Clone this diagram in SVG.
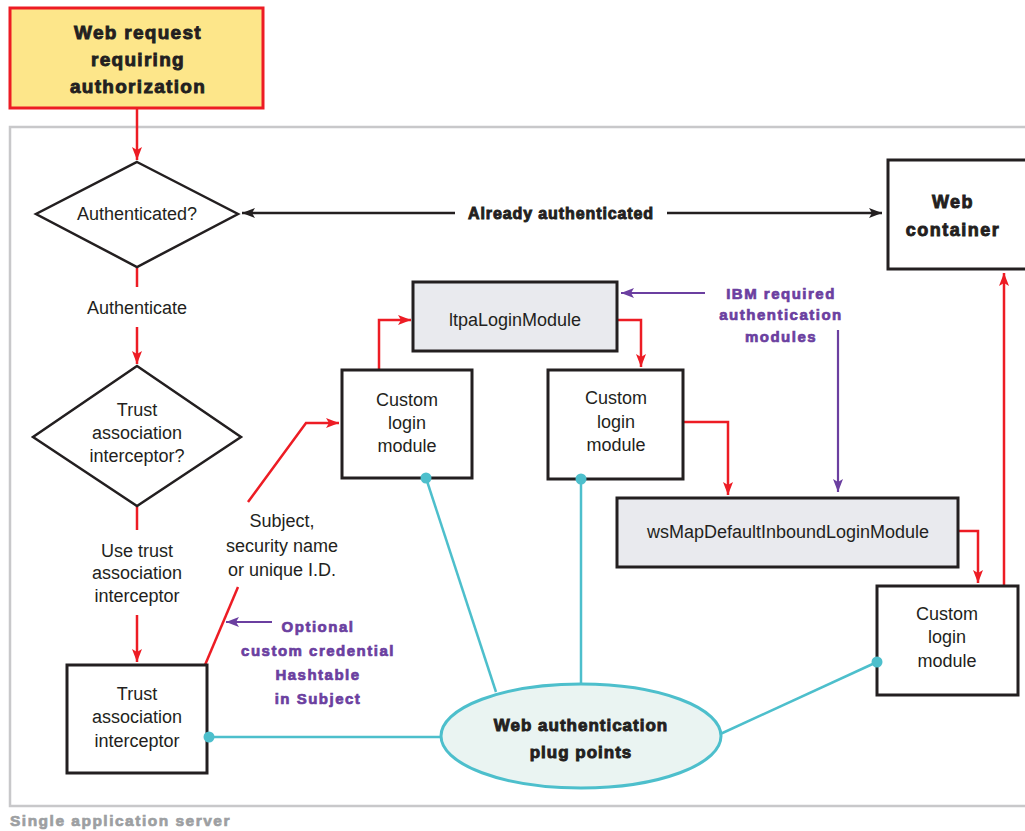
<svg xmlns="http://www.w3.org/2000/svg" width="1025" height="831" viewBox="0 0 1025 831">
<style>
.t{font-family:"Liberation Sans",Arial,sans-serif;font-size:18px;fill:#231f20;text-anchor:middle}
.b{font-family:"Liberation Sans",Arial,sans-serif;font-weight:bold;fill:#231f20;stroke:#231f20;stroke-width:0.9;text-anchor:middle}
.p{font-family:"Liberation Sans",Arial,sans-serif;font-weight:bold;font-size:15px;letter-spacing:1.5px;fill:#6b3fa0;stroke:#6b3fa0;stroke-width:0.7;text-anchor:middle}
.box{fill:#fff;stroke:#231f20;stroke-width:3}
.gbox{fill:#e9eaee;stroke:#231f20;stroke-width:3}
.red{fill:none;stroke:#ed1c24;stroke-width:2.5}
.blk{fill:none;stroke:#231f20;stroke-width:2.5}
.pur{fill:none;stroke:#6b3fa0;stroke-width:2.2}
.cy{fill:none;stroke:#4dbfcc;stroke-width:2.5}
.dot{fill:#4dbfcc}
</style>
<defs>
<marker id="ar" markerUnits="userSpaceOnUse" markerWidth="14" markerHeight="12" refX="13" refY="5" orient="auto"><path d="M0,0 L13,5 L0,10 L3,5 z" fill="#ed1c24"/></marker>
<marker id="ab" markerUnits="userSpaceOnUse" markerWidth="14" markerHeight="12" refX="13" refY="5" orient="auto"><path d="M0,0 L13,5 L0,10 L3,5 z" fill="#231f20"/></marker>
<marker id="ap" markerUnits="userSpaceOnUse" markerWidth="14" markerHeight="12" refX="13" refY="5" orient="auto"><path d="M0,0 L13,5 L0,10 L3,5 z" fill="#6b3fa0"/></marker>
</defs>
<g id="server">
<path d="M1026,127 H10 V806 H1026" fill="none" stroke="#c8c8ca" stroke-width="2.5"/>
<text x="10" y="826" style="font-family:'Liberation Sans',Arial,sans-serif;font-weight:bold;font-size:15.5px;letter-spacing:1.5px;fill:#9d9fa2;stroke:#9d9fa2;stroke-width:0.7">Single application server</text>
</g>
<g id="connectors">
<path class="red" d="M137,108 V160" marker-end="url(#ar)"/>
<path class="red" d="M137,267 V287"/>
<path class="red" d="M137,327 V364" marker-end="url(#ar)"/>
<path class="red" d="M137,506 V530"/>
<path class="red" d="M137,615 V662" marker-end="url(#ar)"/>
<path class="red" d="M205,665 L238,587"/>
<path class="red" d="M248,502 L306,423 H339" marker-end="url(#ar)"/>
<path class="red" d="M379,370 V320 H411" marker-end="url(#ar)"/>
<path class="red" d="M617,320 H641 V367" marker-end="url(#ar)"/>
<path class="red" d="M683,422 H728 V495" marker-end="url(#ar)"/>
<path class="red" d="M958,531 H978 V583" marker-end="url(#ar)"/>
<path class="red" d="M1004,586 V273" marker-end="url(#ar)"/>
<path class="blk" d="M455,213 H242" marker-end="url(#ab)"/>
<path class="blk" d="M667,213 H882" marker-end="url(#ab)"/>
<path class="pur" d="M705,293 H621" marker-end="url(#ap)"/>
<path class="pur" d="M838,330 V492" marker-end="url(#ap)"/>
<path class="pur" d="M272,622 H226" marker-end="url(#ap)"/>
<path class="cy" d="M209,737 H442"/>
<path class="cy" d="M426,478 L496,692"/>
<path class="cy" d="M581,479 V684"/>
<path class="cy" d="M877,662 L716,736"/>
</g>
<g id="labels">
<text class="b" x="561" y="219" style="font-size:16px;letter-spacing:0.9px">Already authenticated</text>
<text class="t" x="137" y="314">Authenticate</text>
<text class="t" x="137" y="557">Use trust</text>
<text class="t" x="137" y="579">association</text>
<text class="t" x="137" y="602">interceptor</text>
<text class="t" x="282" y="527">Subject,</text>
<text class="t" x="282" y="552">security name</text>
<text class="t" x="282" y="576">or unique I.D.</text>
<text class="p" x="318" y="632">Optional</text>
<text class="p" x="318" y="656">custom credential</text>
<text class="p" x="318" y="680">Hashtable</text>
<text class="p" x="318" y="704">in Subject</text>
<text class="p" x="781" y="299">IBM required</text>
<text class="p" x="781" y="320">authentication</text>
<text class="p" x="781" y="342">modules</text>
</g>
<g id="web-request">
<rect x="10" y="8" width="253" height="100" fill="#fde68a" stroke="#ed1c24" stroke-width="3"/>
<text class="b" x="138" y="39" style="font-size:19px;letter-spacing:1.3px">Web request</text>
<text class="b" x="138" y="66" style="font-size:19px;letter-spacing:1.3px">requiring</text>
<text class="b" x="138" y="93" style="font-size:19px;letter-spacing:1.3px">authorization</text>
</g>
<g id="authenticated">
<path d="M137,162 L238,214 L137,267 L36,214 Z" class="box" style="stroke-width:2.5"/>
<text class="t" x="137" y="220">Authenticated?</text>
</g>
<g id="tai-decision">
<path d="M137,366 L241,437 L137,506 L33,437 Z" class="box" style="stroke-width:2.5"/>
<text class="t" x="137" y="416">Trust</text>
<text class="t" x="137" y="439">association</text>
<text class="t" x="137" y="462">interceptor?</text>
</g>
<g id="tai-box">
<rect class="box" x="67" y="665" width="140" height="108"/>
<text class="t" x="137" y="700">Trust</text>
<text class="t" x="137" y="723">association</text>
<text class="t" x="137" y="747">interceptor</text>
</g>
<g id="web-container">
<rect class="box" x="888" y="160" width="140" height="109"/>
<text class="b" x="953" y="208" style="font-size:18px;letter-spacing:1.5px">Web</text>
<text class="b" x="953" y="236" style="font-size:18px;letter-spacing:1.5px">container</text>
</g>
<g id="ltpa">
<rect class="gbox" x="413" y="282" width="204" height="69"/>
<text class="t" x="515" y="326">ltpaLoginModule</text>
</g>
<g id="custom1">
<rect class="box" x="342" y="370" width="130" height="108"/>
<text class="t" x="407" y="406">Custom</text>
<text class="t" x="407" y="429">login</text>
<text class="t" x="407" y="452">module</text>
</g>
<g id="custom2">
<rect class="box" x="548" y="370" width="135" height="109"/>
<text class="t" x="616" y="404">Custom</text>
<text class="t" x="616" y="428">login</text>
<text class="t" x="616" y="451">module</text>
</g>
<g id="wsmap">
<rect class="gbox" x="617" y="498" width="341" height="69"/>
<text class="t" x="788" y="538">wsMapDefaultInboundLoginModule</text>
</g>
<g id="custom3">
<rect class="box" x="877" y="586" width="141" height="109"/>
<text class="t" x="947" y="620">Custom</text>
<text class="t" x="947" y="643">login</text>
<text class="t" x="947" y="667">module</text>
</g>
<g id="plug-points">
<ellipse cx="581" cy="736" rx="140" ry="52" fill="#eaf4f2" stroke="#4dbfcc" stroke-width="3"/>
<text class="b" x="581" y="731" style="font-size:17px;letter-spacing:1px">Web authentication</text>
<text class="b" x="581" y="758" style="font-size:17px;letter-spacing:1px">plug points</text>
</g>
<g id="plug-dots">
<circle class="dot" cx="209" cy="737" r="5.5"/>
<circle class="dot" cx="426" cy="478" r="5.5"/>
<circle class="dot" cx="581" cy="479" r="5.5"/>
<circle class="dot" cx="877" cy="662" r="5.5"/>
</g>
</svg>
